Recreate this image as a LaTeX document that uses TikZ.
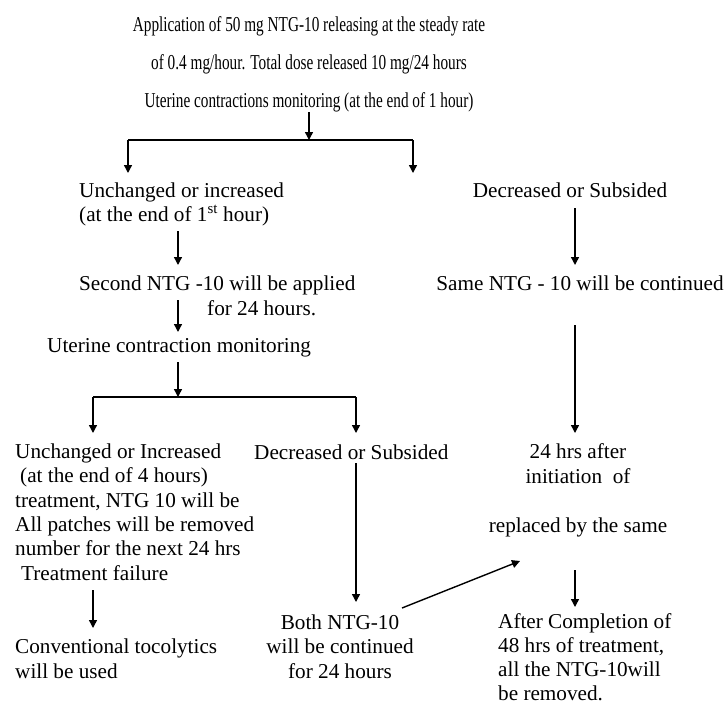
\documentclass[tikz,border=0pt]{standalone}
\usepackage{fontspec}
\setmainfont{Liberation Serif}
\newfontfamily\condfont[FakeStretch=0.72]{Liberation Serif}
\usetikzlibrary{arrows.meta}
\begin{document}
\begin{tikzpicture}[x=1pt,y=-1pt,
  txt/.style={inner sep=0pt, font=\fontsize{21.2}{24.3}\selectfont, align=left},
  ctxt/.style={inner sep=0pt, font=\fontsize{21.2}{24.3}\selectfont, align=center},
  arr/.style={-{Triangle[length=8pt,width=8pt]}, line width=1.4pt},
  ln/.style={line width=1.4pt}]
\useasboundingbox (0,0) rectangle (727,704);
% nodes (base anchor = baseline of the last line)
\node[inner sep=0pt, font=\condfont\fontsize{21.2}{37.8}\selectfont, align=center, anchor=base] (top) at (309,107.5)
  {Application of 50 mg NTG-10 releasing at the steady rate\\
   of 0.4 mg/hour. Total dose released 10 mg/24 hours\\
   Uterine contractions monitoring (at the end of 1 hour)};
\node[txt, anchor=base west] (L1) at (79,221.5)
  {Unchanged or increased\\(at the end of 1\textsuperscript{st} hour)};
\node[txt, anchor=base west] (L2) at (79,315)
  {Second NTG -10 will be applied\\\hspace*{128pt}for 24 hours.};
\node[txt, anchor=base west] (L3) at (47,352) {Uterine contraction monitoring};
\node[ctxt, anchor=base] (R1) at (570,197) {Decreased or Subsided};
\node[ctxt, anchor=base] (R2) at (580,290) {Same NTG - 10 will be continued};
\node[txt, anchor=base west] (LL) at (15,580)
  {Unchanged or Increased\\
   \hspace*{5pt}(at the end of 4 hours)\\
   treatment, NTG 10 will be\\
   All patches will be removed\\
   number for the next 24 hrs\\
   \hspace*{6pt}Treatment failure};
\node[txt, anchor=base west] (LL2) at (15,678) {Conventional tocolytics\\will be used};
\node[txt, anchor=base west] (LM) at (254,459) {Decreased or Subsided};
\node[ctxt, anchor=base] (LM2) at (340,678) {Both NTG-10\\will be continued\\for 24 hours};
\node[ctxt, anchor=base] (RR1) at (578,483) {24 hrs after\\initiation~ of};
\node[ctxt, anchor=base] (RR2) at (578,532) {replaced by the same};
\node[txt, anchor=base west, font=\fontsize{21.2}{24}\selectfont] (RR3) at (498,700)
  {After Completion of\\48 hrs of treatment,\\all the NTG-10will\\be removed.};
% junction coordinates
\coordinate (j1) at (309,140);
\coordinate (j1L) at (128,140);
\coordinate (j1R) at (413,140);
\coordinate (j2) at (178,397);
\coordinate (j2L) at (93,397);
\coordinate (j2R) at (356,397);
% connectors
\draw[arr] (top.south) -- (j1);
\draw[ln] (j1L) -- (j1R);
\draw[arr] (j1L) -- (128,173);
\draw[arr] (j1R) -- (413,173);
\draw[arr] (178,231) -- (178,265);
\draw[arr] (178,300) -- (178,332);
\draw[arr] (178,362) -- (j2);
\draw[ln] (j2L) -- (j2R);
\draw[arr] (j2L) -- (93,433);
\draw[arr] (j2R) -- (356,433);
\draw[arr] (575,208) -- (575,265);
\draw[arr] (575,325) -- (575,433);
\draw[arr] (93,590) -- (93,628);
\draw[arr] (356,463) -- (356,602);
\draw[arr] (575,570) -- (575,607);
\draw[arr] (402,608) -- (520,561);
\end{tikzpicture}
\end{document}
